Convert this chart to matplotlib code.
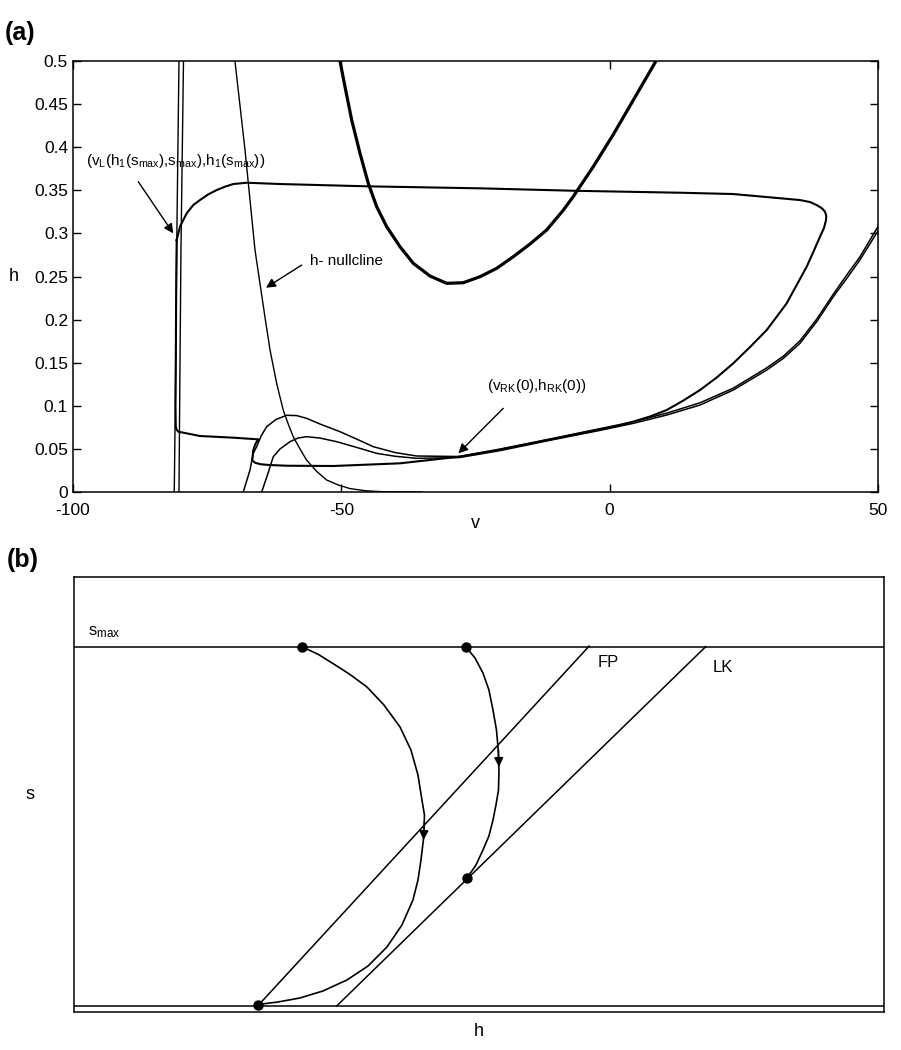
import matplotlib.pyplot as plt

plt.rcParams['font.family'] = ['Liberation Sans', 'DejaVu Sans']
plt.rcParams['mathtext.fontset'] = 'custom'
plt.rcParams['mathtext.rm'] = 'Liberation Sans'
plt.rcParams['mathtext.it'] = 'Liberation Sans:italic'
plt.rcParams['mathtext.default'] = 'regular'
plt.rcParams['axes.unicode_minus'] = False

# ---------------- panel (a): v-h phase plane ----------------
v_ticks = [-100, -50, 0, 50]
h_ticks = [0, 0.05, 0.1, 0.15, 0.2, 0.25, 0.3, 0.35, 0.4, 0.45, 0.5]
h_ticklabels = ['0', '0.05', '0.1', '0.15', '0.2', '0.25', '0.3', '0.35', '0.4', '0.45', '0.5']

# left branches of the v-nullcline (two values of s)
left1_v = [-81.13, -80.9, -80.68, -80.25]
left1_h = [0.0, 0.12, 0.281, 0.5]
left2_v = [-80.25, -80.1, -79.88, -79.41]
left2_h = [0.0, 0.12, 0.281, 0.5]

# middle/right branches of the v-nullcline (two values of s)
hump1_v = [-68.27, -67.02, -66.4, -65.78, -64.9, -63.91, -62.2, -60.2, -58.33, -56.47,
           -53.98, -50.25, -47.0, -44.05, -40.0, -35.98, -28.0, -20.44, -11.12, -1.81,
           4.41, 10.62, 16.83, 23.03, 29.25, 32.35, 35.46, 38.57, 41.67, 44.2,
           46.6, 50.0]
hump1_h = [0.0, 0.0255, 0.045, 0.0526, 0.0655, 0.0758, 0.0841, 0.089, 0.0887, 0.0855,
           0.0789, 0.070, 0.061, 0.0526, 0.0458, 0.0418, 0.0412, 0.0495, 0.0615, 0.0735,
           0.0815, 0.0915, 0.1035, 0.1205, 0.144, 0.1575, 0.1755, 0.2005, 0.2295, 0.2520,
           0.2725, 0.308]
hump2_v = [-64.84, -63.7, -62.68, -61.43, -59.57, -58.08, -56.47, -53.98, -50.87, -47.0,
           -43.42, -40.0, -35.98, -28.0, -20.44, -11.12, -1.81, 4.41, 10.62, 16.83,
           23.03, 29.25, 32.35, 35.46, 38.57, 41.67, 44.2, 46.6, 50.0]
hump2_h = [0.0, 0.021, 0.041, 0.0499, 0.0584, 0.0626, 0.0642, 0.0626, 0.0584, 0.0515,
           0.0449, 0.0415, 0.0391, 0.0400, 0.0480, 0.0600, 0.0715, 0.0797, 0.0893, 0.1009,
           0.1183, 0.1415, 0.1550, 0.1725, 0.1976, 0.2266, 0.2480, 0.2690, 0.303]

# h-nullcline
hnull_v = [-69.82, -67.95, -66.09, -65.16, -64.23, -63.29, -62.05, -60.82, -59.9, -58.95,
           -57.7, -56.47, -54.6, -52.75, -50.5, -48.39, -45.5, -42.18, -35.0]
hnull_h = [0.5, 0.397, 0.281, 0.242, 0.203, 0.165, 0.126, 0.095, 0.079, 0.064,
           0.050, 0.037, 0.024, 0.014, 0.008, 0.004, 0.0015, 0.0003, 0.0]

# trajectory (closed loop)
traj_v = [-80.68, -80.06, -78.82, -77.58, -76.34, -74.79, -73.22, -71.68, -70.13, -67.63,
          -61.43, -45.0, -24.17, -6.78, 13.10, 22.97, 29.25, 35.46, 37.32, 38.57,
          39.56, 40.12, 40.36, 40.31, 39.93, 39.19, 37.94, 36.71, 34.84, 32.98,
          29.26, 26.15, 23.03, 19.93, 16.83, 13.72, 10.62, 7.51, 4.34, 1.30,
          -1.81, -11.12, -20.44, -28.0, -39.07, -51.5, -60.0, -63.29, -65.0, -66.1,
          -66.6, -66.5, -66.4, -66.0, -65.47, -70.0, -76.34, -80.38, -80.7, -80.85,
          -80.9, -80.75, -80.68]
traj_h = [0.2923, 0.3078, 0.3233, 0.3330, 0.3387, 0.3453, 0.3503, 0.3542, 0.3573, 0.3588,
          0.3573, 0.3546, 0.3523, 0.3495, 0.3472, 0.3457, 0.3422, 0.3387, 0.3364, 0.3329,
          0.3291, 0.3252, 0.3202, 0.3155, 0.3063, 0.2962, 0.2784, 0.2614, 0.2401, 0.2189,
          0.1879, 0.1682, 0.1493, 0.1328, 0.1183, 0.1061, 0.0951, 0.0876, 0.0816, 0.0766,
          0.0727, 0.0610, 0.0495, 0.0410, 0.0333, 0.0302, 0.0305, 0.0313, 0.0322, 0.0340,
          0.0371, 0.0430, 0.0487, 0.0560, 0.0611, 0.0630, 0.0650, 0.0700, 0.0725, 0.0760,
          0.1000, 0.2500, 0.2923]

# thick U-shaped curve
u_v = [-50.25, -49.32, -48.07, -46.52, -44.98, -43.41, -41.55, -39.07, -36.59, -33.48,
       -30.37, -27.28, -24.16, -21.05, -17.96, -14.85, -11.74, -8.65, -6.78, -3.06,
       0.67, 4.40, 8.63]
u_h = [0.5, 0.4702, 0.4316, 0.3929, 0.3581, 0.3310, 0.3078, 0.2846, 0.2653, 0.2506,
       0.2421, 0.2428, 0.2498, 0.2595, 0.2730, 0.2877, 0.3040, 0.3269, 0.3428, 0.3774,
       0.4147, 0.4546, 0.5]

# annotations: (text, text_v, text_h, tail_v, tail_h, tip_v, tip_h)
ann_a = [
    ('(v$_L$(h$_1$(s$_{max}$),s$_{max}$),h$_1$(s$_{max}$))', -97.6, 0.379, -87.83, 0.360, -81.31, 0.300),
    ('h- nullcline', -55.84, 0.2633, -57.39, 0.2633, -64.04, 0.237),
    ('(v$_{RK}$(0),h$_{RK}$(0))', -13.5, 0.118, -19.83, 0.0971, -28.2, 0.0449),
]

# ---------------- panel (b): schematic h-s plane ----------------
smax_level = 0.839
s0_level = 0.0138
fp_h = [0.2268, 0.636]
fp_s = [0.0138, 0.841]
lk_h = [0.3243, 0.780]
lk_s = [0.0138, 0.840]

arc1_h = [0.2811, 0.3012, 0.3198, 0.3407, 0.3617, 0.3827, 0.4025, 0.4160, 0.4247, 0.4296,
          0.4327, 0.4321, 0.4284, 0.4247, 0.4185, 0.4049, 0.3864, 0.3630, 0.3370, 0.3074,
          0.2790, 0.2519, 0.2272]
arc1_s = [0.8398, 0.8225, 0.8010, 0.7760, 0.7471, 0.7057, 0.6552, 0.6023, 0.5448, 0.4874,
          0.4529, 0.4069, 0.3494, 0.3034, 0.2575, 0.2000, 0.1494, 0.1057, 0.0736, 0.0483,
          0.0322, 0.0230, 0.0172]
arc2_h = [0.4836, 0.4951, 0.5049, 0.5123, 0.5173, 0.5216, 0.5235, 0.5247, 0.5241, 0.5210,
          0.5173, 0.5123, 0.5049, 0.4963, 0.4852]
arc2_s = [0.8398, 0.8138, 0.7793, 0.7402, 0.6943, 0.6483, 0.6092, 0.5563, 0.5103, 0.4759,
          0.4414, 0.4046, 0.3724, 0.3379, 0.3080]

dots_h = [0.2811, 0.4836, 0.2268, 0.4848]
dots_s = [0.8398, 0.8398, 0.0165, 0.3070]

# arrow heads on the trajectories: (tail_h, tail_s, tip_h, tip_s)
heads_b = [(0.4325, 0.4368, 0.4315, 0.3954),
           (0.5242, 0.6023, 0.5247, 0.5632)]

fig = plt.figure(figsize=(9.01, 10.5), dpi=100)
ax1 = fig.add_axes([0.0810, 0.5314, 0.8935, 0.4105])
ax2 = fig.add_axes([0.0821, 0.0362, 0.8990, 0.4143])

# panel (a)
ax1.plot(left1_v, left1_h, color='k', lw=1.0)
ax1.plot(left2_v, left2_h, color='k', lw=1.0)
ax1.plot(hump1_v, hump1_h, color='k', lw=1.1)
ax1.plot(hump2_v, hump2_h, color='k', lw=1.1)
ax1.plot(hnull_v, hnull_h, color='k', lw=1.0)
ax1.plot(traj_v, traj_h, color='k', lw=1.5)
ax1.plot(u_v, u_h, color='k', lw=2.3)

for txt, tv, th, av, ah, pv, ph in ann_a:
    ax1.text(tv, th, txt, fontsize=11, ha='left' if 'RK' not in txt else 'center', va='baseline')
    ax1.annotate('', xy=(pv, ph), xytext=(av, ah),
                 arrowprops=dict(arrowstyle='-|>', color='k', lw=1.0,
                                 mutation_scale=14, shrinkA=0, shrinkB=0))

ax1.set_xlim(-100, 50)
ax1.set_ylim(0, 0.5)
ax1.set_xticks(v_ticks)
ax1.set_yticks(h_ticks)
ax1.set_yticklabels(h_ticklabels)
ax1.tick_params(direction='in', top=True, right=True, length=6, width=1.0, labelsize=12.5)
ax1.tick_params(axis='x', pad=8)
for sp in ax1.spines.values():
    sp.set_linewidth(1.1)
ax1.set_xlabel('v', fontsize=13, labelpad=-2)
ax1.text(-0.073, 0.5, 'h', transform=ax1.transAxes, fontsize=13, ha='center', va='center')

# panel (b)
ax2.axhline(smax_level, color='k', lw=1.1)
ax2.axhline(s0_level, color='k', lw=1.1)
ax2.plot(fp_h, fp_s, color='k', lw=1.1)
ax2.plot(lk_h, lk_s, color='k', lw=1.1)
ax2.plot(arc1_h, arc1_s, color='k', lw=1.2)
ax2.plot(arc2_h, arc2_s, color='k', lw=1.2)
ax2.plot(dots_h, dots_s, 'o', color='k', ms=6.5, zorder=5)
for th, ts, ph, ps in heads_b:
    ax2.annotate('', xy=(ph, ps), xytext=(th, ts),
                 arrowprops=dict(arrowstyle='-|>', color='k', lw=1.0,
                                 mutation_scale=14, shrinkA=0, shrinkB=0))
ax2.text(0.017, 0.855, 's$_{max}$', fontsize=12, ha='left', va='bottom')
ax2.text(0.647, 0.803, 'FP', fontsize=12, ha='left', va='center')
ax2.text(0.789, 0.791, 'LK', fontsize=12, ha='left', va='center')
ax2.set_xlim(0, 1)
ax2.set_ylim(0, 1)
ax2.set_xticks([])
ax2.set_yticks([])
for sp in ax2.spines.values():
    sp.set_linewidth(1.1)
ax2.text(0.5, -0.045, 'h', transform=ax2.transAxes, fontsize=13, ha='center', va='center')
ax2.text(-0.054, 0.5, 's', transform=ax2.transAxes, fontsize=13, ha='center', va='center')

fig.text(5 / 901, 1 - 40 / 1050, '(a)', fontsize=18, fontweight='bold', va='baseline')
fig.text(7 / 901, 1 - 567 / 1050, '(b)', fontsize=18, fontweight='bold', va='baseline')

fig.savefig('out.png', dpi=100)
